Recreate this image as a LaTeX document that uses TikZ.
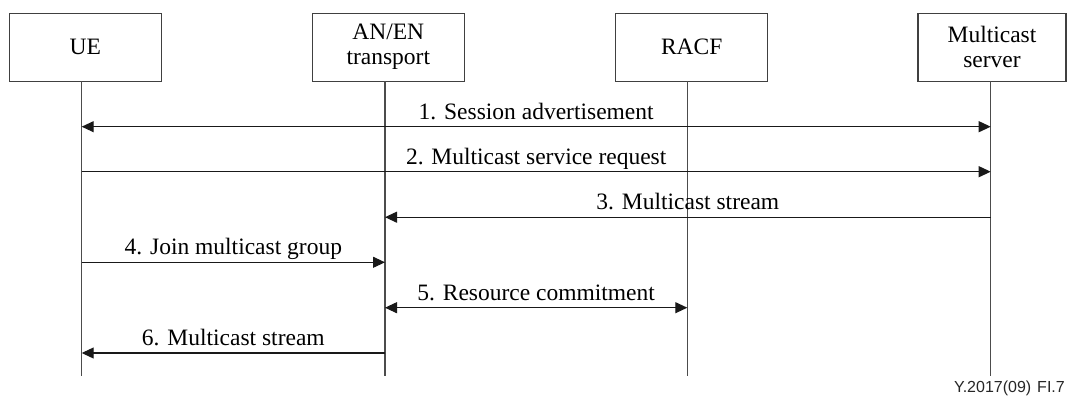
\documentclass[tikz,border=0pt]{standalone}
\usepackage{fontspec}
\setmainfont{Liberation Serif}
\newfontfamily\footfont{Liberation Sans}
\usetikzlibrary{arrows.meta}
\begin{document}
\begin{tikzpicture}[x=1pt,y=-1pt,
  entity/.style={draw=black!75, line width=1.1pt, minimum width=152pt, minimum height=67.7pt,
    inner sep=0pt, align=center, font=\fontsize{23.5}{25}\selectfont},
  lifeline/.style={draw=black!70, line width=1.1pt},
  msg/.style={draw=black!90, line width=1.1pt},
  tip/.style={-{Triangle[length=12pt,width=11pt]}},
  bitip/.style={{Triangle[length=12pt,width=11pt]}-{Triangle[length=12pt,width=11pt]}},
  lbl/.style={midway, anchor=base, yshift=7.5pt, inner sep=0pt, font=\fontsize{23.5}{25}\selectfont}]
\useasboundingbox (0,0) rectangle (1067,396);

% entities
\node[entity] (ue) at (85.3,47.2) {UE};
\node[entity] (an) at (388.3,47.2) {AN/EN\\transport};
\node[entity] (racf) at (691.7,47.2) {RACF};
\node[entity, minimum width=148pt] (ms) at (992,47.2) {Multicast\\server};

% lifelines
\coordinate (ueT) at (81.7,81);   \coordinate (ueB) at (81.7,375.7);
\coordinate (anT) at (385,81);    \coordinate (anB) at (385,375.7);
\coordinate (racfT) at (687.3,81); \coordinate (racfB) at (687.3,375.7);
\coordinate (msT) at (990.7,81);  \coordinate (msB) at (990.7,375.7);
\draw[lifeline] (ueT) -- (ueB);
\draw[lifeline] (anT) -- (anB);
\draw[lifeline] (racfT) -- (racfB);
\draw[lifeline] (msT) -- (msB);

% message levels
\coordinate (m1) at (0,126.7);
\coordinate (m2) at (0,171.7);
\coordinate (m3) at (0,217.2);
\coordinate (m4) at (0,262.3);
\coordinate (m5) at (0,307.7);
\coordinate (m6) at (0,353);

\draw[msg,bitip] (ueB |- m1) -- (msB |- m1) node[lbl] {1. Session advertisement};
\draw[msg,tip] (ueB |- m2) -- (msB |- m2) node[lbl] {2. Multicast service request};
\draw[msg,tip] (msB |- m3) -- (anB |- m3) node[lbl] {3. Multicast stream};
\draw[msg,tip] (ueB |- m4) -- (anB |- m4) node[lbl] {4. Join multicast group};
\draw[msg,bitip] (anB |- m5) -- (racfB |- m5) node[lbl] {5. Resource commitment};
\draw[msg,tip] (anB |- m6) -- (ueB |- m6) node[lbl] {6. Multicast stream};

% footer
\node[anchor=base east, inner sep=0pt, font=\footfont\fontsize{16}{18}\selectfont, text=black!85] (foot) at (1065,392) {Y.2017(09)\hspace{6pt}FI.7};
\end{tikzpicture}
\end{document}
